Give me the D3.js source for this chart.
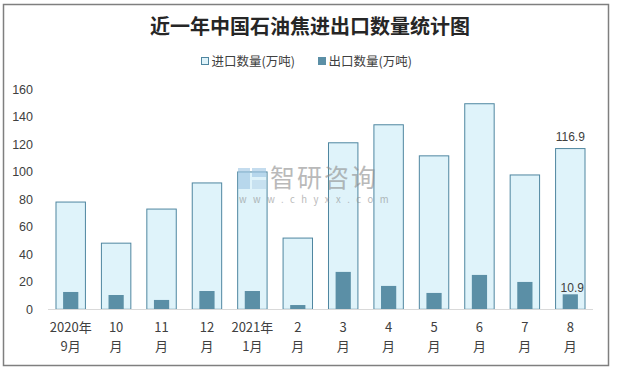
<!DOCTYPE html>
<html>
<head>
<meta charset="utf-8">
<script src="https://cdn.jsdelivr.net/npm/d3@7"></script>
<style>
  html, body { margin: 0; padding: 0; background: #fff; }
  svg { display: block; font-family: "Microsoft YaHei", "Noto Sans CJK SC", "Noto Sans", sans-serif; }
</style>
</head>
<body>
<div id="chart"></div>
<script>
// 月份标签（两行）
const months = [
  ["2020年", "9月"], ["10", "月"], ["11", "月"], ["12", "月"], ["2021年", "1月"], ["2", "月"],
  ["3", "月"], ["4", "月"], ["5", "月"], ["6", "月"], ["7", "月"], ["8", "月"]
];
// 进口 / 出口数量（万吨）
const imports = [78.0, 48.1, 72.9, 91.9, 99.9, 51.8, 121.1, 134.2, 111.6, 149.5, 97.7, 116.9];
const exports = [12.6, 10.4, 6.8, 13.3, 13.3, 3.1, 27.2, 17.0, 11.9, 25.0, 19.9, 10.9];
const yTicks = [0, 20, 40, 60, 80, 100, 120, 140, 160];
const seriesNames = ["进口数量(万吨)", "出口数量(万吨)"];

const W = 617, H = 372;
const C = { outerFill: "#dff3fa", outerStroke: "#4f86a0", inner: "#5b8fa6", text: "#404040", axis: "#d9d9d9" };

const svg = d3.select("#chart").append("svg").attr("width", W).attr("height", H);

// 外框
svg.append("rect").attr("x", 3.5).attr("y", 4.5).attr("width", 605).attr("height", 361)
  .attr("fill", "#fff").attr("stroke", "#7f7f7f").attr("stroke-width", 1.5);

// 标题
svg.append("text").attr("x", 310).attr("y", 34).attr("text-anchor", "middle")
  .attr("font-size", 20).attr("font-weight", "bold").attr("fill", "#262626")
  .text("近一年中国石油焦进出口数量统计图");

// 图例
const legend = [
  { x: 201, fill: C.outerFill, stroke: C.outerStroke },
  { x: 318, fill: C.inner, stroke: C.inner }
];
legend.forEach((l, i) => {
  svg.append("rect").attr("x", l.x + 0.5).attr("y", 57.5).attr("width", 7).attr("height", 7)
    .attr("fill", l.fill).attr("stroke", l.stroke);
  svg.append("text").attr("x", l.x + 10.5).attr("y", 65.5).attr("font-size", 12.5)
    .attr("fill", C.text).text(seriesNames[i]);
});

// 比例尺
const x = d3.scaleBand().domain(d3.range(months.length)).range([48, 593]).paddingInner(0.33).paddingOuter(0.165);
const y = d3.scaleLinear().domain([0, 160]).range([309.3, 89.3]);

// Y轴刻度
const yAxis = svg.append("g").attr("transform", "translate(33,0)")
  .call(d3.axisLeft(y).tickValues(yTicks).tickSize(0).tickPadding(0));
yAxis.select(".domain").remove();
yAxis.selectAll("text").attr("font-size", 12.5).attr("fill", C.text)
  .attr("font-family", "Arial, 'Liberation Sans', sans-serif");

// 进口柱
svg.append("g").selectAll("rect").data(imports).join("rect")
  .attr("x", (d, i) => x(i) + 0.5)
  .attr("y", d => y(d))
  .attr("width", x.bandwidth() - 1)
  .attr("height", d => y(0) - y(d))
  .attr("fill", C.outerFill).attr("stroke", C.outerStroke).attr("stroke-width", 1);

// 出口柱
const iw = x.bandwidth() * 0.5;
svg.append("g").selectAll("rect").data(exports).join("rect")
  .attr("x", (d, i) => x(i) + (x.bandwidth() - iw) / 2)
  .attr("y", d => y(d))
  .attr("width", iw)
  .attr("height", d => y(0) - y(d))
  .attr("fill", C.inner);

// X轴
svg.append("line").attr("x1", 48).attr("x2", 593).attr("y1", 309.5).attr("y2", 309.5)
  .attr("stroke", C.axis).attr("stroke-width", 1);
const xl = svg.append("g").selectAll("text").data(months).join("text")
  .attr("text-anchor", "middle").attr("font-size", 13).attr("fill", C.text);
xl.append("tspan").attr("x", (d, i) => x(i) + x.bandwidth() / 2).attr("y", 332).text(d => d[0]);
xl.append("tspan").attr("x", (d, i) => x(i) + x.bandwidth() / 2).attr("y", 351).text(d => d[1]);

// 数据标签（最后一个月）
const last = months.length - 1;
const cx = x(last) + x.bandwidth() / 2;
svg.append("text").attr("x", cx).attr("y", y(imports[last]) - 8).attr("text-anchor", "middle")
  .attr("font-size", 12).attr("fill", C.text).attr("font-family", "Arial, 'Liberation Sans', sans-serif")
  .text(imports[last].toFixed(1));
svg.append("text").attr("x", cx + 2).attr("y", y(exports[last]) - 2).attr("text-anchor", "middle")
  .attr("font-size", 12).attr("fill", C.text).attr("font-family", "Arial, 'Liberation Sans', sans-serif")
  .text(exports[last].toFixed(1));

// 水印（压在柱子上面）
const wm = svg.append("g").attr("opacity", 0.6);
wm.append("rect").attr("x", 238).attr("y", 168).attr("width", 12).attr("height", 21).attr("fill", "#9ec6e3");
wm.append("rect").attr("x", 252).attr("y", 168).attr("width", 14).attr("height", 9).attr("fill", "#9ec6e3");
wm.append("rect").attr("x", 252).attr("y", 180).attr("width", 14).attr("height", 9).attr("fill", "#b8d6ea");
wm.append("text").attr("x", 270).attr("y", 187).attr("font-size", 25).attr("fill", "#8c8c8c")
  .attr("letter-spacing", 2).text("智研咨询");
wm.append("text").attr("x", 239).attr("y", 203).attr("font-size", 9.5).attr("fill", "#8c8c8c")
  .attr("letter-spacing", 6.5).text("www.chyxx.com");
</script>
</body>
</html>
